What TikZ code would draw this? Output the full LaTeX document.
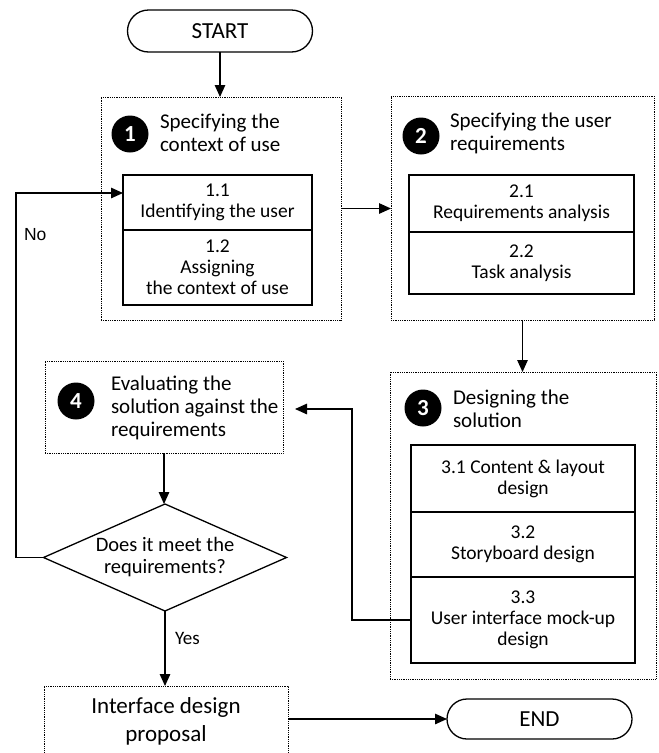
\documentclass[tikz,border=0pt]{standalone}
\usepackage{fontspec}
\setmainfont{Carlito}
\newfontfamily\arialf{Liberation Sans}
\usetikzlibrary{arrows.meta,shapes.misc,shapes.geometric}
\tikzset{
  every node/.style={inner sep=0pt, outer sep=0pt},
  solidbox/.style={draw, line width=1.3pt, align=center, anchor=north west, font=\fontsize{19.5}{21}\selectfont},
  dotbox/.style={draw, line width=0.8pt, dash pattern=on 0.9pt off 0.9pt, anchor=north west},
  numdot/.style={circle, fill=black, minimum size=37pt, text=white, font=\bfseries\fontsize{23}{23}\selectfont},
  heading/.style={anchor=west, align=left, font=\fontsize{21}{23}\selectfont},
  terminal/.style={draw, line width=1.3pt, rounded rectangle, font=\fontsize{23}{25}\selectfont},
  arr/.style={line width=1.3pt, -{Triangle[length=12pt,width=10.5pt]}},
  plain/.style={line width=1.3pt}
}
\begin{document}
\begin{tikzpicture}[x=1pt,y=-1pt]
\useasboundingbox (0,0) rectangle (659,753);
% START
\node[terminal, minimum width=185pt, minimum height=42pt] (start) at (220,31) {START};
% Box 1
\node[dotbox, minimum width=240pt, minimum height=223pt] (b1) at (101,97) {};
\node[numdot] (c1) at (130,134) {1};
\node[heading] (h1) at (160,133) {Specifying the\\context of use};
\node[solidbox, minimum width=189pt, minimum height=55pt] (b11) at (123,175) {1.1\\Identifying the user};
\node[solidbox, minimum width=189pt, minimum height=75pt] (b12) at (123,230) {1.2\\Assigning\\the context of use};
% Box 2
\node[dotbox, minimum width=263pt, minimum height=224pt] (b2) at (391,96) {};
\node[numdot] (c2) at (421,136) {2};
\node[heading] (h2) at (450,133) {Specifying the user\\requirements};
\node[solidbox, minimum width=225pt, minimum height=57pt] (b21) at (409,175) {2.1\\Requirements analysis};
\node[solidbox, minimum width=225pt, minimum height=62pt] (b22) at (409,232) {2.2\\Task analysis};
% Box 3
\node[dotbox, minimum width=266pt, minimum height=307pt] (b3) at (390,372) {};
\node[numdot] (c3) at (423,408) {3};
\node[heading] (h3) at (453,409) {Designing the\\solution};
\node[solidbox, minimum width=224pt, minimum height=67pt] (b31) at (411,445) {3.1 Content \& layout\\design};
\node[solidbox, minimum width=224pt, minimum height=65pt] (b32) at (411,512) {3.2\\Storyboard design};
\node[solidbox, minimum width=224pt, minimum height=86pt] (b33) at (411,577) {3.3\\User interface mock-up\\design};
% Box 4
\node[dotbox, minimum width=238pt, minimum height=92pt] (b4) at (45,361) {};
\node[numdot] (c4) at (76,401) {4};
\node[heading] (h4) at (111,408) {Evaluating the\\solution against the\\requirements};
% Decision
\node[draw, plain, diamond, aspect=2.27, minimum width=243pt, minimum height=107pt, align=center, font=\fontsize{20.5}{22}\selectfont] (dia) at (165,557.5) {Does it meet the\\requirements?};
% Final
\node[dotbox, minimum width=244pt, minimum height=71pt, align=center, font=\fontsize{23}{28}\selectfont] (fin) at (44,686) {Interface design\\proposal};
\node[terminal, minimum width=185pt, minimum height=40pt] (end) at (539.5,719) {END};
% Labels
\node[anchor=west, font=\arialf\fontsize{17.5}{19}\selectfont] (lno) at (24,235) {No};
\node[anchor=west, font=\fontsize{19}{21}\selectfont] (lyes) at (175,638) {Yes};
% Helper coordinates
\coordinate (a4) at (295,409);
\coordinate (k3) at (352,0);
\coordinate (kno) at (16,193);
% Connectors
\draw[arr] (start.south) -- (start.south |- b1.north);
\draw[arr] (b1.east) -- (b1.east -| b2.west);
\draw[arr] (b2.south) -- (b2.south |- b3.north);
\draw[arr] (b33.west) -| (k3 |- a4) -- (a4);
\draw[arr] (b4.south) -- (b4.south |- dia.north);
\draw[arr] (dia.south) -- (dia.south |- fin.north);
\draw[arr] (dia.west) -| (kno) -- (kno -| b11.west);
\draw[arr] (fin.east |- end.west) -- (end.west);
\end{tikzpicture}
\end{document}
